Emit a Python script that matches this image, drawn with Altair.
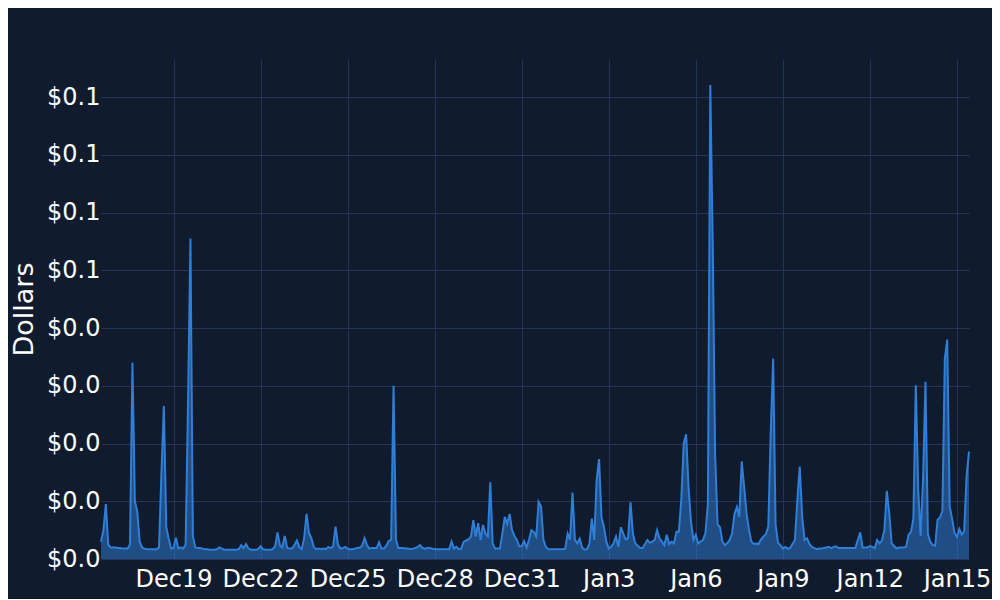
import altair as alt
import pandas as pd

# Series sampled every 2 hours from Dec 16 12:00, values in thousandths of a dollar
start_time = "2024-12-16 12:00"
step = "2h"
cost_milli = [
    # Dec 16 (12:00-22:00)
    3.0, 5.0, 9.5, 2.5, 2.0, 2.0,
    # Dec 17
    2.0, 1.9, 1.9, 1.8, 1.8, 1.8, 2.5, 34.0, 10.0, 8.2, 3.0, 2.0,
    # Dec 18
    1.8, 1.7, 1.7, 1.7, 1.7, 1.7, 2.0, 15.0, 26.5, 5.5, 3.5, 1.8,
    # Dec 19
    1.9, 3.7, 1.8, 2.0, 1.8, 2.5, 27.0, 55.5, 4.0, 2.0, 1.9, 1.9,
    # Dec 20
    1.8, 1.7, 1.7, 1.6, 1.6, 1.6, 1.7, 2.0, 1.8, 1.6, 1.6, 1.6,
    # Dec 21
    1.6, 1.6, 1.6, 1.7, 2.4, 1.9, 2.6, 1.8, 1.6, 1.6, 1.6, 1.7,
    # Dec 22
    2.2, 1.7, 1.6, 1.6, 1.6, 1.7, 2.2, 4.6, 2.4, 2.0, 4.0, 1.9,
    # Dec 23
    1.8, 1.8, 2.4, 3.2, 2.1, 1.7, 3.5, 7.8, 4.5, 3.6, 2.1, 1.7,
    # Dec 24
    1.8, 1.7, 1.8, 1.7, 2.1, 1.9, 2.2, 5.6, 2.5, 1.8, 1.9, 2.1,
    # Dec 25
    1.8, 1.7, 1.7, 1.8, 1.9, 2.0, 2.3, 3.6, 2.4, 1.8, 1.9, 1.9,
    # Dec 26
    1.9, 2.9, 1.8, 1.8, 2.3, 3.1, 3.3, 30.0, 3.3, 1.9, 1.9, 1.9,
    # Dec 27
    1.8, 1.8, 1.7, 1.8, 1.9, 2.1, 2.4, 1.9, 1.8, 1.9, 1.9, 1.8,
    # Dec 28
    1.7, 1.7, 1.7, 1.7, 1.7, 1.7, 1.7, 3.0, 1.8, 2.1, 1.7, 1.8,
    # Dec 29
    3.0, 3.2, 3.4, 3.9, 6.75, 3.9, 6.2, 3.3, 5.9, 4.4, 3.9, 13.3,
    # Dec 30
    2.7, 1.8, 1.8, 1.8, 4.4, 7.3, 6.1, 7.8, 5.0, 4.0, 3.3, 2.2,
    # Dec 31
    2.2, 3.1, 2.0, 3.3, 5.0, 4.7, 3.9, 9.9, 9.1, 3.3, 2.1, 1.7,
    # Jan 1
    1.7, 1.7, 1.7, 1.7, 1.7, 1.7, 1.8, 4.4, 3.3, 11.5, 3.3, 2.7,
    # Jan 2
    3.5, 2.0, 1.6, 1.7, 2.6, 7.0, 3.3, 13.7, 17.3, 7.2, 5.6, 3.0,
    # Jan 3
    1.8, 2.1, 2.7, 3.9, 2.1, 5.5, 4.4, 3.4, 3.6, 9.8, 4.4, 2.7,
    # Jan 4
    2.3, 1.9, 1.9, 2.6, 3.3, 2.8, 3.0, 3.3, 5.0, 3.6, 3.0, 2.4,
    # Jan 5
    4.2, 2.6, 3.0, 2.7, 4.7, 4.7, 10.2, 20.0, 21.6, 12.5, 6.5, 3.3,
    # Jan 6
    4.2, 2.7, 3.0, 3.3, 4.5, 9.5, 82.1, 55.0, 18.0, 6.0, 5.5, 3.0,
    # Jan 7
    2.4, 2.7, 3.3, 4.4, 7.8, 9.0, 7.3, 16.9, 12.5, 7.9, 5.0, 3.0,
    # Jan 8
    2.6, 2.7, 2.6, 3.4, 3.9, 4.3, 5.6, 22.0, 34.7, 6.0, 2.8, 2.4,
    # Jan 9
    1.8, 2.1, 1.8, 1.9, 2.6, 3.3, 10.2, 16.0, 7.3, 3.3, 3.6, 2.6,
    # Jan 10
    2.1, 1.9, 1.7, 1.8, 1.8, 1.9, 2.0, 2.1, 1.9, 2.1, 2.2, 1.9,
    # Jan 11
    1.9, 1.9, 1.9, 1.9, 1.9, 1.9, 1.9, 3.3, 4.6, 2.0, 2.0, 2.0,
    # Jan 12
    2.25, 2.1, 1.85, 3.3, 2.7, 3.2, 5.0, 11.8, 8.0, 2.7, 2.25, 1.85,
    # Jan 13
    2.0, 2.0, 2.0, 2.1, 4.2, 4.7, 7.0, 30.1, 12.0, 4.0, 14.0, 30.7,
    # Jan 14
    4.3, 3.0, 2.4, 2.3, 6.8, 7.2, 8.3, 34.7, 38.0, 9.1, 7.0, 4.5,
    # Jan 15 (00:00-10:00)
    3.8, 5.2, 4.2, 4.8, 14.3, 18.6,
]

tick_days = [(2024, 12, 19), (2024, 12, 22), (2024, 12, 25), (2024, 12, 28),
             (2024, 12, 31), (2025, 1, 3), (2025, 1, 6), (2025, 1, 9),
             (2025, 1, 12), (2025, 1, 15)]
y_ticks = [0.0, 0.01, 0.02, 0.03, 0.04, 0.05, 0.06, 0.07, 0.08]
y_max = 0.0866

BG = "#111b2e"
GRID = "#23345a"
LINE = "#2f7fd8"
TEXT = "#ffffff"
FONT = "DejaVu Sans"

times = pd.date_range(start_time, periods=len(cost_milli), freq=step)
df = pd.DataFrame({
    "time": times.strftime("%Y-%m-%dT%H:%M:%S"),
    "cost": [v / 1000.0 for v in cost_milli],
})

t0, t1 = times[0], times[-1]
x_domain = [
    alt.DateTime(year=t0.year, month=t0.month, date=t0.day, hours=t0.hour),
    alt.DateTime(year=t1.year, month=t1.month, date=t1.day, hours=t1.hour),
]
x_values = [alt.DateTime(year=y, month=m, date=d) for (y, m, d) in tick_days]

x_enc = alt.X(
    "time:T",
    scale=alt.Scale(domain=x_domain, nice=False),
    axis=alt.Axis(
        values=x_values, format="%b%-d", title=None,
        labelFontSize=24, labelPadding=8, labelFlush=False, labelOverlap=False,
    ),
)
y_enc = alt.Y(
    "cost:Q",
    scale=alt.Scale(domain=[0, y_max], nice=False, zero=True),
    axis=alt.Axis(
        values=y_ticks, format="$.1f", title="Dollars",
        labelFontSize=24, labelPadding=1,
        titleFontSize=27, titleFontWeight="normal",
        titleX=-77, titleY=250, titleAngle=270,
        titleAlign="center", titleBaseline="middle",
    ),
)

base = alt.Chart(df).encode(x=x_enc, y=y_enc)
area = base.mark_area(color=LINE, fillOpacity=0.5, interpolate="linear")
line = base.mark_line(color=LINE, strokeWidth=2, interpolate="linear")

chart = (
    alt.layer(area, line)
    .properties(
        width=868, height=500,
        padding={"left": 93, "top": 51, "right": 23, "bottom": 40},
        autosize=alt.AutoSizeParams(type="none"),
        background=BG,
    )
    .configure_view(stroke="transparent")
    .configure_axis(
        domain=False, ticks=False, tickSize=0,
        grid=True, gridColor=GRID, gridWidth=1,
        labelColor=TEXT, titleColor=TEXT,
        labelFont=FONT, titleFont=FONT,
    )
)

chart.save("out.html", embed_options={"renderer": "svg", "actions": False})
